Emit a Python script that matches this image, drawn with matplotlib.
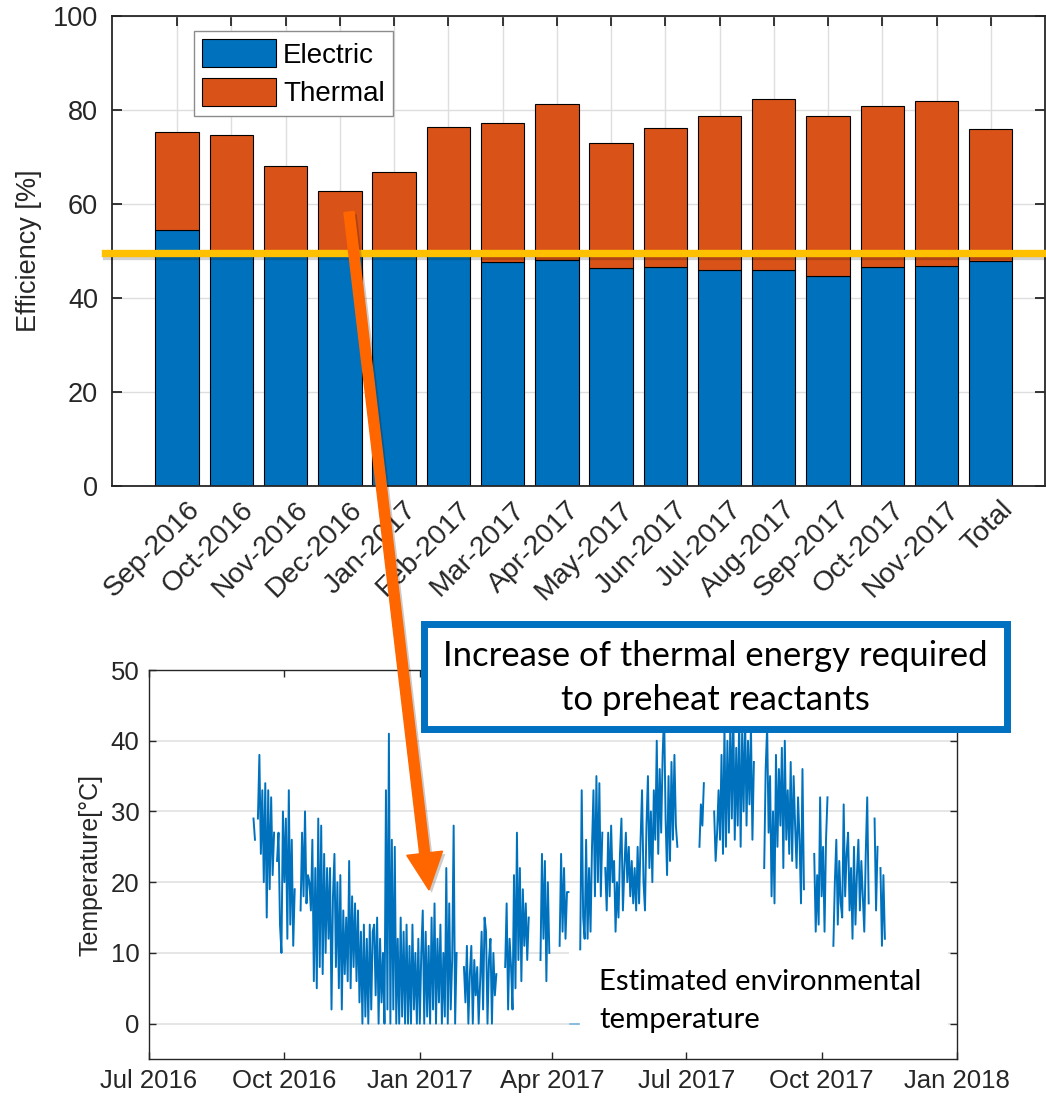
import matplotlib
matplotlib.use("Agg")
import matplotlib.pyplot as plt
import matplotlib.dates as mdates
import matplotlib.patheffects as pe
from matplotlib.patches import FancyArrow, Rectangle
from matplotlib.transforms import IdentityTransform, ScaledTranslation
import numpy as np
import pandas as pd

nan = np.nan

# Monthly efficiency split (%)
months = ["Sep-2016", "Oct-2016", "Nov-2016", "Dec-2016", "Jan-2017", "Feb-2017",
          "Mar-2017", "Apr-2017", "May-2017", "Jun-2017", "Jul-2017", "Aug-2017",
          "Sep-2017", "Oct-2017", "Nov-2017", "Total"]
electric = [54.5, 49.3, 49.2, 49.0, 49.3, 49.4, 47.5, 48.0, 46.4, 46.6, 45.8, 45.8,
            44.6, 46.5, 46.7, 47.8]
thermal = [20.7, 25.4, 18.9, 13.7, 17.4, 27.0, 29.8, 33.3, 26.6, 29.5, 32.8, 36.5,
           34.0, 34.4, 35.3, 28.2]
ref_level = 49.6

# Estimated environmental temperature (degC), one value per day from temp_start
temp_start = "2016-09-10"
t_sep16 = [29, 26, nan, 29, 38, 24, 33, 20, 34, 15, 33, 19, 32, 21, 27, nan, 23, 27,
           14, 10, 30]
t_oct16 = [20, 29, 12, 33, 14, 26, 11, 19, nan, nan, nan, 16, 27, 18, 30, 17, 21, 20,
           16, 26, 6, 22, 5, 29, 8, 28, 7, 24, 10, 22, 12]
t_nov16 = [22, 2, 18, 24, 8, 20, 5, 21, 2, 16, 7, 15, 6, 23, 5, 18, 8, 17, 6, 16, 3,
           13, 0, 14, 1, 12, 0, 14, 2, 13]
t_dec16 = [14, 4, 15, 0, 12, 3, 10, 0, 33, 2, 41, 0, 26, 2, 25, 0, 12, 0, 15, 1, 13,
           0, 14, 0, 11, 0, 14, 2, 10, 0, 12]
t_jan17 = [0, 10, 16, 0, 13, 1, 11, 0, 15, 2, 17, 0, 12, 3, 14, 0, 10, 1, 22, 0, 17,
           2, 9, 28, 0, 10, nan, nan, nan, nan, 8]
t_feb17 = [3, 11, 0, 7, 11, 0, 9, 4, 8, 0, 6, 13, 2, 15, 13, 0, 9, 12, 0, 10, 4, 7,
           nan, nan, nan, nan, nan, 8]
t_mar17 = [17, 2, 12, 8, 2, 21, 5, 27, 9, 22, 6, 19, 11, 17, 9, 15, nan, nan, nan,
           nan, nan, nan, nan, 9, 24, 12, 23, 6, 20, 10, nan]
t_apr17 = [nan, nan, nan, nan, nan, 11, 24, 13, 22, 12, 18.6, 18.6, nan, nan, nan,
           nan, nan, nan, nan, 10.5, 33, 15, 12, 26, 12, 22, 13, 25, 33, 18]
t_may17 = [35, 20, 34, 18, 27, nan, 22, 16, 27, 18, 28, 20, 23, 13, 20, 15, 24, 29,
           16, 22, 27, 20, 25, 18, 23, 17, 22, 16, 25, 17, 26]
t_jun17 = [33, 20, 16, 28, 35, 22, 30, 20, 33, 26, 40, 24, 36, 27, 38, 44, 29, 21, 35,
           23, 37, 26, 38, 28, 25, nan, nan, nan, nan, nan]
t_jul17 = [nan, nan, nan, nan, nan, nan, nan, nan, nan, 25, 31, 28, 34, nan, nan, nan,
           nan, nan, nan, 30, 23, 27, 33, 26, 38, 24, 42, 25, 40, 27, 43]
t_aug17 = [29, 44, 26, 39, 28, 43, 25, 41, 30, 44, 28, 40, 31, 42, 26, 37, nan, nan,
           nan, nan, nan, nan, 22, 36, 42, 27, 35, 18, 30, 17, 38]
t_sep17 = [25, 36, 28, 39, 22, 40, 26, 33, 24, 37, 23, 35, 28, 22, 32, 26, 17, 36, 19,
           nan, nan, nan, nan, nan, nan, 24, 13, 21, 14, 32]
t_oct17 = [18, 25, 13, 26, 32, nan, nan, nan, 11, 20, 26, 14, 23, 17, 15, 31, 18, 24,
           27, 16, 22, 12, 25, 14, 21, 26, 16, 23, 18, 13, 24]
t_nov17 = [32, 17, nan, nan, nan, 29, 16, 25, nan, 22, 11, 21, 12]

BLUE = "#0072BD"
ORANGE = "#D95319"
AX_GRAY = "#262626"

plt.rcParams["font.family"] = ["Liberation Sans", "DejaVu Sans"]

W, H = 1046, 1098
fig = plt.figure(figsize=(W / 100, H / 100), dpi=100)


def frac(x0, y_top, x1, y_bot):
    return [x0 / W, 1 - y_bot / H, (x1 - x0) / W, (y_bot - y_top) / H]


# ---- stacked efficiency bars ----
ax1 = fig.add_axes(frac(112, 16, 1045, 485.5))
pos = np.arange(len(months))
ax1.bar(pos, electric, 0.8, color=BLUE, edgecolor="black", lw=0.8, label="Electric")
ax1.bar(pos, thermal, 0.8, bottom=electric, color=ORANGE, edgecolor="black", lw=0.8,
        label="Thermal")
ax1.set_xlim(-1.2, 16.0)
ax1.set_ylim(0, 100)
ax1.set_yticks(range(0, 101, 20))
ax1.set_xticks(pos, months, rotation=45, ha="right", va="top", rotation_mode="anchor")
ax1.grid(True, color="#dedede", lw=1.0)
ax1.set_axisbelow(True)
ax1.tick_params(direction="in", length=7, width=1.3, top=True, right=True,
                labelsize=19.5, colors=AX_GRAY, pad=10)
ax1.tick_params(axis="x", pad=8, labelsize=20.5)
for sp in ax1.spines.values():
    sp.set_color(AX_GRAY)
    sp.set_linewidth(1.3)
ax1.set_ylabel("Efficiency [%]", fontsize=19.5, color=AX_GRAY, labelpad=8)
shift = ScaledTranslation(6.5 / 72, 0, fig.dpi_scale_trans)
for lab in ax1.get_xticklabels():
    lab.set_transform(lab.get_transform() + shift)
leg = ax1.legend(loc="upper left", bbox_to_anchor=(0.0879, 0.968), borderaxespad=0,
                 fontsize=20, handlelength=2.65, handleheight=1.15, handletextpad=0.25,
                 labelspacing=0.35, borderpad=0.3, fancybox=False, framealpha=1)
leg.get_frame().set_edgecolor("#8c8c8c")
leg.get_frame().set_linewidth(1.0)

ax1.axhline(ref_level, xmin=-0.0075, xmax=1.002, clip_on=False, color="#FFC000",
            lw=5.3, zorder=4,
            path_effects=[pe.SimpleLineShadow(offset=(0.5, -2.5), shadow_color="k",
                                              alpha=0.18), pe.Normal()])

# ---- temperature series ----
temp = (t_sep16 + t_oct16 + t_nov16 + t_dec16 + t_jan17 + t_feb17 + t_mar17 + t_apr17
        + t_may17 + t_jun17 + t_jul17 + t_aug17 + t_sep17 + t_oct17 + t_nov17)
dates = pd.date_range(temp_start, periods=len(temp), freq="D")

ax2 = fig.add_axes(frac(149, 670, 957, 1059))
ax2.plot(dates, temp, color=BLUE, lw=1.4, zorder=1.5)
ax2.set_xlim(pd.Timestamp("2016-07-01"), pd.Timestamp("2018-01-01"))
ax2.set_ylim(-5, 50)
ax2.set_yticks(range(0, 51, 10))
ax2.xaxis.set_major_locator(mdates.MonthLocator(bymonth=[1, 4, 7, 10]))
ax2.xaxis.set_major_formatter(mdates.DateFormatter("%b %Y"))
ax2.yaxis.grid(True, color="#e2e2e2", lw=1.2)
ax2.set_axisbelow(True)
ax2.tick_params(direction="in", length=5, width=1.0, top=True, right=True,
                labelsize=18.5, colors=AX_GRAY, pad=7)
for sp in ax2.spines.values():
    sp.set_color(AX_GRAY)
    sp.set_linewidth(1.0)
ax2.set_ylabel("Temperature[°C]", fontsize=18, color=AX_GRAY, labelpad=6)

# legend area: white panel with a short sample line
x0 = mdates.date2num(pd.Timestamp("2017-04-12 12:00"))
x1 = mdates.date2num(pd.Timestamp("2017-12-26"))
ax2.add_patch(Rectangle((x0, -3.9), x1 - x0, 14.2, fc="white", ec="none", zorder=2))
ax2.plot([pd.Timestamp("2017-04-13"), pd.Timestamp("2017-04-19")], [0, 0],
         color=BLUE, alpha=0.55, lw=1.2, zorder=3)
fig.text(599 / W, 1 - 990 / H, "Estimated environmental", fontsize=21.2, family="Lato",
         va="baseline", ha="left")
fig.text(599 / W, 1 - 1028 / H, "temperature", fontsize=21.2, family="Lato",
         va="baseline", ha="left")

# ---- call-out box and arrow ----
ident = IdentityTransform()
fig.add_artist(Rectangle((423.5, H - 728.5), 583, 105, transform=ident, lw=5,
                         ec="#0070C0", fc="white", zorder=5))
fig.text(715 / W, 1 - 666 / H, "Increase of thermal energy required", fontsize=24.9,
         family="Lato", ha="center", va="baseline", zorder=6)
fig.text(715 / W, 1 - 710 / H, "to preheat reactants", fontsize=24.9,
         family="Lato", ha="center", va="baseline", zorder=6)

arrow = FancyArrow(349, H - 212, 80, -678, width=10, head_width=36, head_length=37,
                   length_includes_head=True, transform=ident, color="#FF6600",
                   zorder=7,
                   path_effects=[pe.SimplePatchShadow(offset=(2, -2), shadow_rgbFace="k",
                                                      alpha=0.2), pe.Normal()])
fig.add_artist(arrow)

fig.savefig("out.png", dpi=100)
